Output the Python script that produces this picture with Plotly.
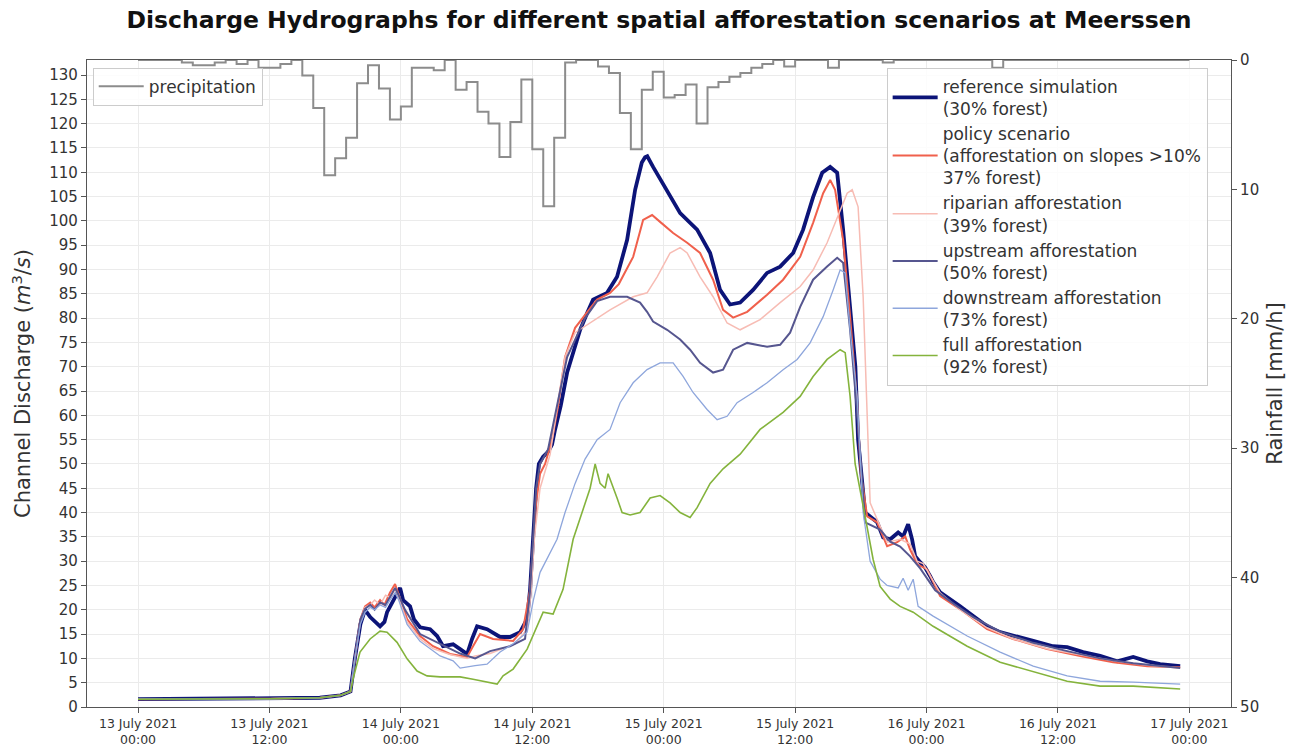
import pandas as pd
import plotly.graph_objects as go

START = pd.Timestamp("2021-07-13 00:00")

# ---------------- data (hours after 13 July 2021 00:00) ----------------
rain_mm_h = [0, 0, 0, 0, 0.2, 0.4, 0.4, 0.2, 0, 0.3, 0, 0.6, 0.6, 0.3, 0, 1.2,
             3.7, 8.9, 7.6, 6.0, 1.8, 0.4, 2.2, 4.6, 3.6, 0.6, 0.6, 0.8, 0, 2.3,
             1.7, 4.0, 4.9, 7.5, 4.8, 1.5, 6.9, 11.3, 6.0, 0.2, 0, 0, 0.5, 1.0,
             4.1, 6.9, 2.3, 0.9, 2.9, 2.7, 1.9, 4.9, 2.1, 1.7, 1.3, 1.0, 0.6, 0.3,
             0, 0.5, 0, 0, 0, 0.6, 0, 0, 0, 0, 0.2, 0, 0, 0, 0, 0, 0, 0, 0, 0,
             0.6, 0, 0, 0, 0, 0, 0, 0, 0, 0, 0, 0, 0, 0, 0, 0, 0, 0]

ref_t = [0, 12, 16.6, 18.5, 19.4, 19.8, 20.3, 20.73, 21.2, 22.1, 22.5, 22.74, 23.3, 23.93,
         24.2, 24.84, 25.2, 25.75, 26.67, 27.31, 27.85, 28.77, 29.41, 30.05, 30.5, 30.96,
         31.87, 33.06, 33.97, 34.89, 35.53, 35.8, 36.07, 36.35, 36.6, 36.99, 37.44, 37.8,
         38.08, 38.6, 39.18, 39.8, 40.37, 41.0, 41.55, 42.2, 42.83, 43.74, 44.66, 45.39,
         46.0, 46.3, 46.5, 47.03, 48.31, 49.5, 51.05, 52.24, 53.15, 54.06, 54.98, 56.16,
         57.44, 58.63, 59.82, 60.73, 61.64, 62.47, 63.2, 63.84, 64.38, 65.02, 65.5, 65.75,
         66.39, 67.49, 68.04, 68.68, 69.41, 69.86, 70.32, 70.68, 70.96, 71.42, 71.87, 72.33,
         72.6, 73.24, 74.16, 75.07, 76.26, 77.53, 78.72, 80.27, 81.74, 83.56, 84.84, 86.3,
         87.85, 89.41, 90.87, 92.15, 93.33, 95.16]
ref_q = [1.6, 1.7, 1.9, 2.4, 3.2, 10, 17, 20.0, 18.5, 16.6, 17.5, 19.5, 22, 24.5,
         22, 20.7, 18, 16.4, 16.0, 14.6, 12.5, 12.9, 11.9, 10.9, 14.0, 16.6,
         16.0, 14.4, 14.4, 15.4, 18.1, 24.2, 34.5, 45, 50, 51.5, 52.5, 54,
         57.1, 62, 68.8, 73.5, 77.6, 81, 83.8, 84.5, 85.2, 88.5, 96.1, 106.4,
         112, 113.1, 113.3, 111.1, 106, 101.6, 98.2, 93.4, 85.8, 82.8, 83.2, 85.8,
         89.3, 90.6, 93.4, 98.2, 104.9, 109.9, 111.1, 109.9, 98.2, 81.1, 70, 55,
         40.0, 38.0, 34.9, 34.5, 35.9, 35.1, 37.6, 34.5, 31.0, 29.8, 28.7, 26.9,
         25.7, 23.6, 22.2, 20.7, 18.7, 16.6, 15.4, 14.4, 13.6, 12.5, 12.3, 11.3,
         10.5, 9.4, 10.3, 9.4, 8.8, 8.4]

pol_t = [0, 12, 16.6, 18.5, 19.4, 19.8, 20.3, 20.73, 21.2, 21.6, 22.1, 22.5, 23.0, 23.47,
         23.8, 24.57, 25.75, 26.94, 28.49, 30.05, 30.59, 31.23, 32.42, 34.25, 35.16, 35.8,
         36.07, 36.35, 36.71, 37.17, 37.81, 38.36, 38.99, 39.91, 41.28, 41.92, 43.1, 43.9,
         44.6, 45.21, 46.12, 46.94, 47.67, 48.86, 50.14, 51.32, 52.51, 53.42, 54.34, 55.62,
         57.44, 58.9, 60.46, 61.64, 62.56, 63.2, 63.65, 64.38, 65.02, 65.66, 66.0, 66.58,
         67.49, 68.4, 69.32, 70.05, 70.5, 71.14, 72.05, 73.24, 75.07, 77.53, 79.91, 83.01,
         86.03, 89.04, 92.15, 95.16]
pol_q = [1.6, 1.7, 1.9, 2.4, 3.2, 10, 18, 20.7, 21.5, 20.5, 22, 21, 23.5, 25.3,
         23, 18.1, 14.6, 12.5, 10.9, 10.3, 12.5, 15.0, 14.0, 13.6, 16.0, 24.2,
         33, 42, 48, 50, 55, 62, 72, 78, 82, 83.8, 85.2, 87,
         90, 92.6, 100.2, 101.2, 99.8, 97.5, 95.5, 93.4, 87.9, 81.7, 80.1, 81.3,
         84.8, 87.9, 92.6, 99.6, 105.7, 108.4, 106.4, 96.1, 80.3, 62.6, 48, 39.2,
         38.0, 33.1, 33.9, 35.1, 32.4, 29.4, 28.3, 22.8, 20.1, 16.0, 14.0, 11.9,
         10.5, 9.2, 8.4, 8.2]

rip_t = [0, 12, 16.6, 18.5, 19.4, 19.8, 20.3, 20.73, 21.2, 21.6, 22.1, 22.6, 23.1, 23.47,
         23.8, 24.57, 25.75, 26.94, 28.49, 30.05, 30.78, 32.15, 34.43, 35.53, 35.9, 36.2,
         36.71, 37.63, 38.36, 38.99, 39.91, 41.28, 43.1, 45.21, 46.48, 47.4, 48.58, 49.5,
         50.14, 51.32, 52.51, 53.79, 54.98, 56.8, 58.63, 60.46, 61.64, 62.92, 63.84, 64.75,
         65.21, 65.75, 66.21, 66.58, 66.85, 67.49, 68.4, 69.59, 70.5, 71.14, 71.69, 73.24,
         75.07, 77.53, 79.91, 83.01, 86.03, 89.04, 92.15, 95.16]
rip_q = [1.6, 1.7, 1.9, 2.4, 3.2, 10, 18, 20.5, 21, 22, 21, 23, 22.5, 24.5,
         22.5, 17.5, 14, 12, 10.8, 10.0, 10.5, 11.0, 13.0, 16.0, 24, 35,
         45, 52, 63, 72, 77, 79, 81.7, 84.4, 85.2, 88.5, 93.4, 94.5,
         93.4, 88.5, 84.4, 79.0, 77.6, 79.7, 83.2, 86.5, 89.9, 95.5, 100.8, 105.7,
         106.4, 102.9, 84.4, 57.1, 42, 38.6, 33.9, 34.5, 33.5, 30, 29.5, 23.5,
         20.0, 16.3, 14.0, 12.0, 10.8, 9.5, 8.6, 8.0]

up_t = [0, 12, 16.6, 18.5, 19.4, 19.8, 20.3, 20.73, 21.2, 21.6, 22.1, 22.6, 23.0, 23.47,
        23.8, 24.38, 25.75, 27.58, 29.41, 30.78, 32.15, 33.97, 35.34, 35.8, 36.07, 36.35,
        36.71, 37.44, 38.26, 39.18, 40.82, 41.92, 43.1, 44.66, 45.84, 46.48, 47.03, 48.31,
        49.5, 50.41, 51.32, 52.51, 53.42, 54.34, 55.62, 57.44, 58.63, 59.54, 60.46, 61.64,
        62.92, 63.84, 64.38, 65.02, 65.66, 66.39, 67.76, 68.68, 69.59, 70.5, 71.42, 72.79,
        74.61, 76.26, 78.72, 81.74, 84.84, 87.85, 90.87, 95.16]
up_q = [1.6, 1.7, 1.9, 2.4, 3.2, 10, 18, 20.2, 21, 20, 21.5, 21, 22.5, 24.5,
        23, 20, 15, 13, 11, 10.0, 11.5, 12.5, 14.0, 24, 34, 45,
        50, 53, 62, 72, 80, 83.5, 84.4, 84.4, 83.2, 81.3, 79.3, 77.6,
        75.6, 73.5, 70.8, 68.8, 69.4, 73.5, 74.9, 74.1, 74.5, 77.0, 82.3, 87.9,
        90.6, 92.4, 91.4, 77.6, 60.6, 38, 36.5, 34, 33, 31, 28.5, 24,
        21, 18.5, 15.5, 13.2, 11.5, 10.0, 9.0, 8.0]

down_t = [0, 12, 16.6, 18.5, 19.4, 19.8, 20.3, 20.73, 21.2, 21.6, 22.1, 22.6, 23.0, 23.47,
          23.8, 24.57, 25.75, 27.58, 28.77, 29.41, 30.78, 31.87, 33.06, 34.25, 35.53, 36.1,
          36.71, 38.26, 38.99, 39.91, 40.82, 41.92, 43.1, 44.02, 45.21, 46.48, 47.67, 48.86,
          49.77, 50.68, 51.96, 52.88, 53.79, 54.7, 56.16, 57.44, 58.9, 60.18, 61.37, 62.56,
          63.47, 64.11, 64.57, 65.02, 65.66, 66.21, 66.85, 67.76, 68.4, 69.41, 69.86, 70.32,
          70.78, 71.23, 72.6, 75.71, 78.72, 81.74, 84.84, 87.85, 90.87, 95.16]
down_q = [1.6, 1.7, 1.9, 2.4, 3.2, 10, 17, 19.5, 20.5, 20, 21, 20.5, 22, 23.5,
          22, 17, 13.5, 10.5, 9.5, 8.0, 8.5, 8.8, 11.3, 13.0, 15.4, 22,
          27.7, 34.5, 40, 46, 51, 55, 57.1, 62.6, 66.7, 69.4, 70.8, 70.8,
          68.0, 64.7, 61.2, 59.1, 59.8, 62.6, 64.7, 66.7, 69.4, 71.5, 74.9, 80.3,
          85.8, 89.9, 89.3, 77.6, 63.9, 40, 30, 26.3, 25.0, 24.5, 26.5, 24,
          26.3, 20.7, 18.7, 14.6, 11.3, 8.4, 6.4, 5.3, 5.1, 4.7]

full_t = [0, 12, 16.6, 18.5, 19.4, 19.63, 20.27, 21.19, 22.1, 22.74, 23.65, 24.57, 25.48, 26.39,
          27.58, 29.41, 30.59, 32.15, 32.79, 33.33, 34.25, 35.53, 36.99, 37.9, 38.81, 39.73,
          40.82, 41.28, 41.74, 42.19, 42.65, 42.92, 43.74, 44.2, 44.93, 45.84, 46.76, 47.67,
          48.58, 49.5, 50.41, 51.05, 52.24, 53.42, 54.98, 56.8, 58.9, 60.46, 61.64, 62.92,
          64.11, 64.57, 65.02, 65.48, 66.39, 67.12, 67.76, 68.68, 69.59, 70.78, 72.6, 75.71,
          78.72, 81.74, 84.84, 87.85, 90.87, 95.16]
full_q = [1.6, 1.7, 1.9, 2.4, 3.2, 5.7, 11.3, 14.0, 15.6, 15.4, 13.3, 9.9, 7.4, 6.4,
          6.2, 6.2, 5.7, 5.1, 4.7, 6.4, 7.8, 11.9, 19.5, 19.1, 24.2, 34.5,
          42, 45, 50, 46, 45, 48, 43, 40, 39.5, 40, 43, 43.5,
          42, 40, 39, 41, 46, 49, 52, 57.1, 60.6, 63.9, 68.0, 71.5,
          73.5, 72.9, 63.9, 50, 39.2, 30.4, 24.8, 22.2, 20.7, 19.5, 16.6, 12.5,
          9.2, 7.2, 5.3, 4.3, 4.3, 3.7]

series_names = [
    "reference simulation<br>(30% forest)",
    "policy scenario<br>(afforestation on slopes >10%<br>37% forest)",
    "riparian afforestation<br>(39% forest)",
    "upstream afforestation<br>(50% forest)",
    "downstream afforestation<br>(73% forest)",
    "full afforestation<br>(92% forest)",
]
tick_hours = [0, 12, 24, 36, 48, 60, 72, 84, 96]
tick_text = ["13 July 2021<br>00:00", "13 July 2021<br>12:00", "14 July 2021<br>00:00",
             "14 July 2021<br>12:00", "15 July 2021<br>00:00", "15 July 2021<br>12:00",
             "16 July 2021<br>00:00", "16 July 2021<br>12:00", "17 July 2021<br>00:00"]

# ---------------- styling ----------------
colors = ["#0c1478", "#f0604c", "#f7bcb4", "#56568f", "#8ea6dc", "#84b33c"]
widths = [3.8, 2.0, 1.5, 2.0, 1.3, 1.6]
FONT = "DejaVu Sans"
TXT = "#333333"


def to_time(hours):
    return START + pd.to_timedelta(pd.Series(hours, dtype=float), unit="h")


fig = go.Figure()

series = [(ref_t, ref_q), (pol_t, pol_q), (rip_t, rip_q),
          (up_t, up_q), (down_t, down_q), (full_t, full_q)]
for (t, q), name, c, w in zip(series, series_names, colors, widths):
    fig.add_trace(go.Scatter(x=to_time(t), y=q, mode="lines", name=name,
                             line=dict(color=c, width=w), legend="legend2"))

rain_hours = list(range(len(rain_mm_h) + 1))
rain_vals = rain_mm_h + [rain_mm_h[-1]]
fig.add_trace(go.Scatter(x=to_time(rain_hours), y=rain_vals, mode="lines",
                         name="precipitation", yaxis="y2",
                         line=dict(color="#8c8c8c", width=2, shape="hv"),
                         legend="legend"))

x0 = START + pd.Timedelta(hours=-4.66)
x1 = START + pd.Timedelta(hours=99.8)

axis_common = dict(showline=True, linecolor="#555555", linewidth=1.2,
                   ticks="outside", ticklen=5, tickcolor="#555555",
                   zeroline=False, automargin=False)

fig.update_layout(
    width=1301, height=749,
    margin=dict(l=87, r=70, t=60, b=42),
    paper_bgcolor="white", plot_bgcolor="white",
    font=dict(family=FONT, color=TXT),
    title=dict(text="<b>Discharge Hydrographs for different spatial afforestation scenarios at Meerssen</b>",
               x=0.5, xref="paper", xanchor="center",
               y=0.973, yref="container", yanchor="middle",
               font=dict(size=23.5, family=FONT, color="#111111")),
    xaxis=dict(type="date", range=[x0, x1],
               tickmode="array", tickvals=list(to_time(tick_hours)), ticktext=tick_text,
               tickfont=dict(size=12.5, color=TXT),
               showgrid=True, gridcolor="#ebebeb", gridwidth=1,
               mirror=True, **axis_common),
    yaxis=dict(range=[0, 133.1], tick0=0, dtick=5,
               tickfont=dict(size=15, color=TXT),
               showgrid=True, gridcolor="#ebebeb", gridwidth=1,
               title=dict(text="Channel Discharge (<i>m</i><sup>3</sup>/<i>s</i>)",
                          font=dict(size=21, color=TXT), standoff=12),
               **axis_common),
    yaxis2=dict(range=[50, 0], tick0=0, dtick=10, overlaying="y", side="right",
                tickfont=dict(size=15, color=TXT), showgrid=False,
                title=dict(text="Rainfall [mm/h]", font=dict(size=21, color=TXT),
                           standoff=9),
                **axis_common),
    legend=dict(x=0.005, y=0.988, xanchor="left", yanchor="top",
                bgcolor="rgba(255,255,255,0.85)", bordercolor="#cccccc", borderwidth=1,
                font=dict(size=17, color=TXT), itemwidth=45),
    legend2=dict(x=0.699, y=0.988, xanchor="left", yanchor="top",
                 bgcolor="rgba(255,255,255,0.85)", bordercolor="#cccccc", borderwidth=1,
                 font=dict(size=17, color=TXT), itemwidth=45),
    showlegend=True,
)

fig.write_html("out.html")
